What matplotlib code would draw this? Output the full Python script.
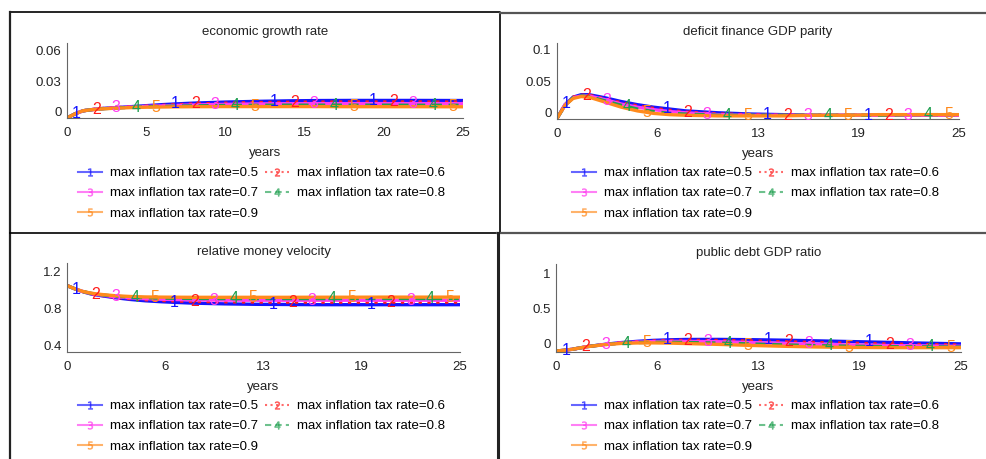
import numpy as np
from matplotlib import pyplot as plt
from matplotlib.lines import Line2D

plt.rcParams['font.family'] = ['Liberation Sans', 'DejaVu Sans']

W, H = 987, 459

# time points (years)
t = [0, 0.5, 1, 1.5, 2, 3, 4, 5, 6, 7, 8, 10, 12, 14, 16, 18, 20, 22, 25]

# economic growth rate
growth1 = [-0.006, -0.002, 0.001, 0.002, 0.003, 0.004, 0.005, 0.006, 0.007, 0.0078, 0.0085, 0.0095, 0.0102, 0.0107, 0.011, 0.0111, 0.0111, 0.0111, 0.011]
growth2 = [-0.006, -0.002, 0.001, 0.002, 0.003, 0.004, 0.0048, 0.0056, 0.0063, 0.007, 0.0076, 0.0084, 0.009, 0.0093, 0.0095, 0.0096, 0.0096, 0.0096, 0.0095]
growth3 = [-0.006, -0.002, 0.001, 0.002, 0.0029, 0.0038, 0.0046, 0.0053, 0.0058, 0.0063, 0.0067, 0.0073, 0.0077, 0.0079, 0.008, 0.008, 0.008, 0.008, 0.008]
growth4 = [-0.006, -0.002, 0.001, 0.002, 0.0028, 0.0037, 0.0044, 0.0049, 0.0053, 0.0056, 0.0058, 0.0062, 0.0064, 0.0065, 0.0065, 0.0065, 0.0065, 0.0064, 0.0064]
growth5 = [-0.006, -0.002, 0.001, 0.002, 0.0027, 0.0035, 0.0041, 0.0045, 0.0047, 0.0049, 0.005, 0.0051, 0.0051, 0.0051, 0.0051, 0.005, 0.005, 0.005, 0.0049]

# deficit finance GDP parity
deficit1 = [-0.010, 0.012, 0.024, 0.028, 0.028, 0.023, 0.017, 0.012, 0.008, 0.005, 0.002, -0.001, -0.003, -0.004, -0.005, -0.005, -0.005, -0.005, -0.005]
deficit2 = [-0.010, 0.012, 0.024, 0.027, 0.027, 0.021, 0.015, 0.010, 0.006, 0.003, 0.000, -0.003, -0.004, -0.005, -0.005, -0.005, -0.005, -0.005, -0.005]
deficit3 = [-0.010, 0.012, 0.023, 0.026, 0.026, 0.020, 0.013, 0.008, 0.004, 0.001, -0.001, -0.004, -0.005, -0.005, -0.005, -0.005, -0.005, -0.005, -0.005]
deficit4 = [-0.010, 0.011, 0.023, 0.026, 0.025, 0.018, 0.011, 0.005, 0.001, -0.002, -0.003, -0.005, -0.005, -0.005, -0.005, -0.005, -0.005, -0.004, -0.004]
deficit5 = [-0.010, 0.011, 0.022, 0.025, 0.024, 0.016, 0.008, 0.002, -0.002, -0.004, -0.005, -0.006, -0.006, -0.006, -0.005, -0.005, -0.004, -0.004, -0.004]

# relative money velocity
velocity1 = [1.045, 1.01, 0.98, 0.955, 0.94, 0.915, 0.895, 0.88, 0.87, 0.862, 0.855, 0.847, 0.842, 0.84, 0.838, 0.838, 0.838, 0.838, 0.838]
velocity2 = [1.045, 1.01, 0.98, 0.957, 0.943, 0.92, 0.903, 0.892, 0.884, 0.878, 0.874, 0.869, 0.867, 0.866, 0.866, 0.866, 0.866, 0.866, 0.866]
velocity3 = [1.045, 1.01, 0.98, 0.96, 0.946, 0.926, 0.912, 0.903, 0.897, 0.893, 0.89, 0.887, 0.886, 0.886, 0.886, 0.886, 0.886, 0.886, 0.886]
velocity4 = [1.045, 1.01, 0.981, 0.962, 0.949, 0.931, 0.92, 0.913, 0.909, 0.907, 0.905, 0.904, 0.904, 0.904, 0.904, 0.905, 0.905, 0.905, 0.905]
velocity5 = [1.045, 1.01, 0.982, 0.964, 0.952, 0.936, 0.927, 0.922, 0.92, 0.919, 0.918, 0.918, 0.918, 0.918, 0.919, 0.919, 0.92, 0.92, 0.92]

# public debt GDP ratio
debt1 = [-0.11, -0.10, -0.085, -0.065, -0.045, -0.015, 0.01, 0.028, 0.042, 0.05, 0.055, 0.056, 0.052, 0.045, 0.036, 0.026, 0.016, 0.006, -0.008]
debt2 = [-0.11, -0.10, -0.085, -0.065, -0.045, -0.016, 0.007, 0.023, 0.034, 0.04, 0.043, 0.041, 0.033, 0.022, 0.012, 0.002, -0.008, -0.016, -0.025]
debt3 = [-0.11, -0.10, -0.085, -0.065, -0.045, -0.017, 0.004, 0.017, 0.025, 0.028, 0.028, 0.023, 0.012, 0.0, -0.012, -0.022, -0.03, -0.036, -0.042]
debt4 = [-0.11, -0.10, -0.085, -0.065, -0.045, -0.018, 0.001, 0.011, 0.015, 0.015, 0.012, 0.004, -0.009, -0.022, -0.033, -0.041, -0.047, -0.05, -0.053]
debt5 = [-0.11, -0.10, -0.085, -0.065, -0.046, -0.019, -0.002, 0.005, 0.006, 0.003, -0.003, -0.015, -0.03, -0.042, -0.052, -0.058, -0.061, -0.062, -0.062]

labels = ["max inflation tax rate=0.5", "max inflation tax rate=0.6", "max inflation tax rate=0.7",
          "max inflation tax rate=0.8", "max inflation tax rate=0.9"]
colors = ['#1414ff', '#ff1a1a', '#ff3cf0', '#20a050', '#ff8a1c']
styles = ['-', ':', '-', (0, (3, 2)), '-']


def px(x, y):
    return x / W, 1 - y / H


def panel(rect, title, series, ylim, yticks, xticks, xticklabels):
    x0, y0, x1, y1 = rect
    ax = fig.add_axes([x0 / W, 1 - y1 / H, (x1 - x0) / W, (y1 - y0) / H])
    for k, ys in enumerate(series):
        ax.plot(t, ys, color=colors[k], ls=styles[k], lw=2.4)
        for j in range(4):
            tl = 0.6 + 1.25 * k + 6.25 * j
            ax.text(tl, np.interp(tl, t, ys), str(k + 1), color=colors[k],
                    fontsize=11.5, ha='center', va='center')
    ax.set_xlim(0, 25)
    ax.set_ylim(*ylim)
    ax.set_yticks(yticks)
    ax.set_yticklabels([f"{v:g}" for v in yticks])
    ax.set_xticks(xticks)
    ax.set_xticklabels(xticklabels)
    ax.tick_params(length=0, labelsize=9.5, colors='#222222')
    ax.tick_params(axis='x', pad=6.5)
    ax.tick_params(axis='y', pad=4)
    for s in ['top', 'right']:
        ax.spines[s].set_visible(False)
    for s in ['left', 'bottom']:
        ax.spines[s].set_color('#666666')
    ax.set_title(title, fontsize=9.5, pad=6, color='#222222')
    ax.set_xlabel("years", fontsize=9.5, labelpad=6, color='#222222')
    ax.patch.set_alpha(0)
    return ax


def legend(x, y):
    hs = []
    for k in range(5):
        hs.append(Line2D([], [], color=colors[k], ls=styles[k], lw=1.5, alpha=0.65,
                         marker=f'${k + 1}$', markersize=5.5, markeredgewidth=0.4))
    order = [0, 2, 4, 1, 3]
    fig.legend([hs[i] for i in order], [labels[i] for i in order], ncol=2,
               loc='upper left', bbox_to_anchor=px(x, y), frameon=False,
               fontsize=9.5, handlelength=1.8, handletextpad=0.65, columnspacing=0.5,
               labelspacing=0.6, borderaxespad=0, borderpad=0, numpoints=1)


fig = plt.figure(figsize=(W / 100, H / 100), dpi=100)

steps = [0, 6.25, 12.5, 18.75, 25]
steplabels = ['0', '6', '13', '19', '25']

panel((67, 43, 463, 118), "economic growth rate",
      [growth1, growth2, growth3, growth4, growth5], (-0.006, 0.067), [0, 0.03, 0.06],
      [0, 5, 10, 15, 20, 25], ['0', '5', '10', '15', '20', '25'])
panel((557, 43, 959, 119), "deficit finance GDP parity",
      [deficit1, deficit2, deficit3, deficit4, deficit5], (-0.011, 0.111), [0, 0.05, 0.1],
      steps, steplabels)
panel((67, 263, 460, 352), "relative money velocity",
      [velocity1, velocity2, velocity3, velocity4, velocity5], (0.325, 1.29), [0.4, 0.8, 1.2],
      steps, steplabels)
panel((556, 264, 961, 352), "public debt GDP ratio",
      [debt1, debt2, debt3, debt4, debt5], (-0.124, 1.133), [0, 0.5, 1],
      steps, steplabels)

legend(78, 167)
legend(572, 167)
legend(78, 400)
legend(572, 400)

# panel frames
def frame(xs, ys, color, lw):
    p = [px(a, b) for a, b in zip(xs, ys)]
    fig.add_artist(Line2D([q[0] for q in p], [q[1] for q in p], color=color, lw=lw))

frame([10, 500, 500], [12, 12, 233], 'black', 1.2)
frame([10, 10], [12, 459], '#222222', 1.6)
frame([10, 497], [233, 233], 'black', 1.2)
frame([500, 987], [13, 13], '#555555', 1.6)
frame([497, 987], [233, 233], '#555555', 1.6)
frame([497.5, 497.5], [233, 459], '#222222', 2.2)

fig.savefig("out.png", dpi=100)
